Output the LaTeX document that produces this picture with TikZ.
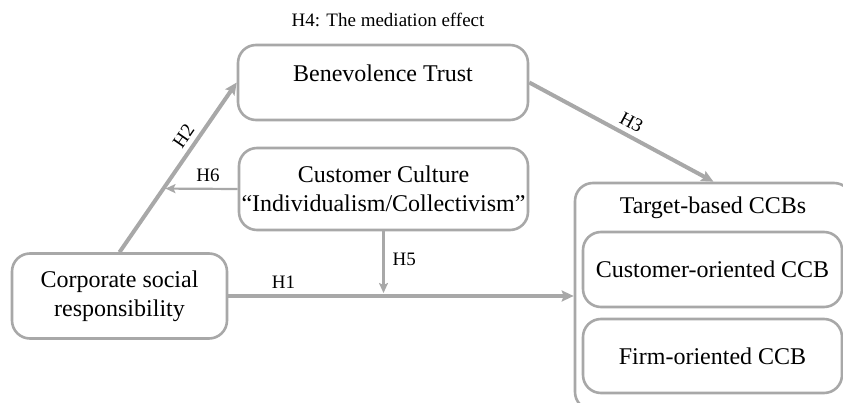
\documentclass[tikz,border=0pt]{standalone}
\usepackage{fontspec}
\setmainfont{Liberation Serif}
\usetikzlibrary{arrows.meta,calc}
\definecolor{linegray}{RGB}{168,168,168}

\begin{document}
\begin{tikzpicture}[x=1pt, y=-1pt,
  box/.style = {shape=rectangle, rounded corners=18pt, draw=linegray, line width=2.6pt,
    align=center, font=\fontsize{24}{29}\selectfont, inner sep=0pt},
  lbl/.style = {font=\fontsize{19}{22}\selectfont, inner sep=2pt},
  arr/.style = {draw=linegray, line width=4pt, -{Stealth[length=12pt,width=11pt,inset=2pt]}},
  thinarr/.style = {draw=linegray, line width=2.2pt, -{Stealth[length=10pt,width=9pt,inset=2pt]}}]
  \useasboundingbox (0,0) rectangle (843,403);
  \node[lbl] (h4) at (388,20) {H4: The mediation effect};
  \node[box, minimum width=290pt, minimum height=75pt, text depth=18pt] (bt) at (383,82.5) {Benevolence Trust};
  \node[box, minimum width=289pt, minimum height=82pt] (cc) at (383.5,189)
    {Customer Culture\\``Individualism/Collectivism''};
  \node[box, minimum width=215pt, minimum height=85pt] (csr) at (119.5,296)
    {Corporate social\\responsibility};
  \node[box, minimum width=277pt, minimum height=227pt] (ccbs) at (713.5,296.5) {};
  \node[font=\fontsize{24}{29}\selectfont] (tb) at (713,208) {Target-based CCBs};
  \node[box, minimum width=259pt, minimum height=75pt] (cust) at (712.5,269.5) {Customer-oriented CCB};
  \node[box, minimum width=259pt, minimum height=74pt] (firm) at (712.5,356) {Firm-oriented CCB};
  \coordinate (h6end) at ($(csr.north)!0.375!(bt.west)$);
  \draw[arr] (csr.east) -- node[lbl, pos=0.16, above=4pt] (h1) {H1} (csr.east -| ccbs.west);
  \draw[arr] (csr.north) -- node[lbl, pos=0.64, sloped, above=3pt] (h2) {H2} (bt.west);
  \draw[arr] (bt.east) -- node[lbl, pos=0.52, sloped, above=3pt] (h3) {H3} (ccbs.north);
  \draw[thinarr, shorten >=2pt] (cc.west) -- node[lbl, pos=0.4, above=4pt] (h6) {H6} (h6end);
  \draw[thinarr, shorten >=3pt] (cc.south) -- node[lbl, pos=0.44, right=6pt] (h5) {H5} (cc.south |- csr.east);
\end{tikzpicture}
\end{document}
